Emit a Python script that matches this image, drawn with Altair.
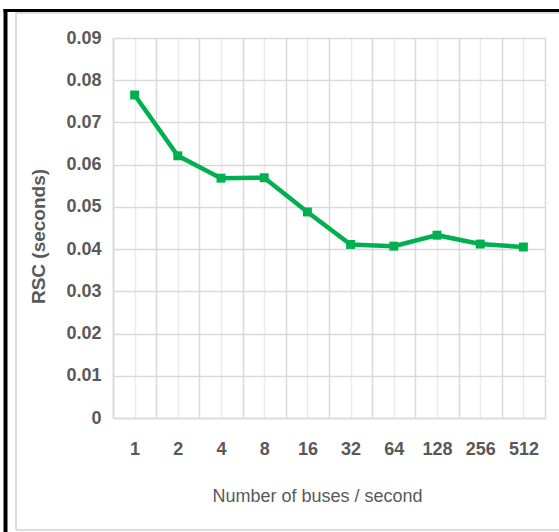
import altair as alt
import pandas as pd

# Buses per second (category labels) and measured RSC in seconds
buses = ["1", "2", "4", "8", "16", "32", "64", "128", "256", "512"]
rsc = [0.0765, 0.0621, 0.0568, 0.0569, 0.0488, 0.0411, 0.0407, 0.0433, 0.0412, 0.0405]

df = pd.DataFrame({"idx": list(range(len(buses))), "bus": buses, "rsc": rsc})

n = len(buses)
# label lookup: category index -> bus count text
label_expr = "".join(f"datum.value == {i} ? '{b}' : " for i, b in enumerate(buses)) + "''"
grid_vals = [i / 2 for i in range(-1, 2 * n)]          # boundaries and centres
y_vals = [round(i * 0.01, 2) for i in range(10)]

GREEN = "#00B050"
GRID = "#d9d9d9"
TEXT = "#595959"
FONT = "Liberation Sans"

x_enc = alt.X(
    "idx:Q",
    scale=alt.Scale(domain=[-0.5, n - 0.5], nice=False, zero=False),
    axis=alt.Axis(
        values=grid_vals,
        labelExpr=label_expr,
        labelOverlap=False,
        labelFlush=False,
        ticks=False,
        labelPadding=22,
        title="Number of buses / second",
        titlePadding=29,
        titleX=204,
        gridColor=alt.ConditionalAxisColor(
            condition={"test": "datum.value % 1 != 0", "value": GRID}, value="#ebebeb"
        ),
        gridWidth=1.5,
    ),
)
y_enc = alt.Y(
    "rsc:Q",
    scale=alt.Scale(domain=[0, 0.09], nice=False),
    axis=alt.Axis(
        values=y_vals,
        format=".2~f",
        ticks=False,
        labelPadding=12,
        title="RSC (seconds)",
        titlePadding=17,
        titleY=198,
        titleFontWeight="bold",
        titleFontSize=19,
        gridColor=GRID,
        gridWidth=1.6,
    ),
)

line = alt.Chart(df).mark_line(
    color=GREEN,
    strokeWidth=4.5,
    point=alt.OverlayMarkDef(shape="square", filled=True, color=GREEN, size=80, opacity=1),
).encode(x=x_enc, y=y_enc)

# Frame around the chart area
frame_df = pd.DataFrame({"k": [0]})
black_left = alt.Chart(frame_df).mark_rule(color="black", strokeWidth=4).encode(
    x=alt.value(-107.5), y=alt.value(-29), y2=alt.value(494)
)
black_top = alt.Chart(frame_df).mark_rule(color="black", strokeWidth=3).encode(
    x=alt.value(-109.5), x2=alt.value(446), y=alt.value(-27.5)
)
gray_left = alt.Chart(frame_df).mark_rule(color="#dddddd", strokeWidth=2).encode(
    x=alt.value(-97), y=alt.value(-26), y2=alt.value(492)
)
gray_top = alt.Chart(frame_df).mark_rule(color="#dddddd", strokeWidth=2).encode(
    x=alt.value(-97), x2=alt.value(446), y=alt.value(-25)
)
gray_bottom = alt.Chart(frame_df).mark_rule(color="#dddddd", strokeWidth=2).encode(
    x=alt.value(-97), x2=alt.value(446), y=alt.value(492)
)

chart = (
    alt.layer(line, gray_left, gray_top, gray_bottom, black_left, black_top)
    .properties(
        width=432,
        height=380,
        autosize=alt.AutoSizeParams(type="none"),
        padding={"left": 113, "top": 38, "right": 14, "bottom": 114},
        background="white",
    )
    .configure_view(stroke=None)
    .configure_axis(
        labelFont=FONT,
        labelFontSize=18,
        labelFontWeight="bold",
        labelColor=TEXT,
        titleFont=FONT,
        titleFontSize=18,
        titleFontWeight="normal",
        titleColor=TEXT,
        domainColor=GRID,
        domainWidth=1.6,
    )
)

chart.save("out.html", embed_options={"renderer": "svg", "actions": False})
